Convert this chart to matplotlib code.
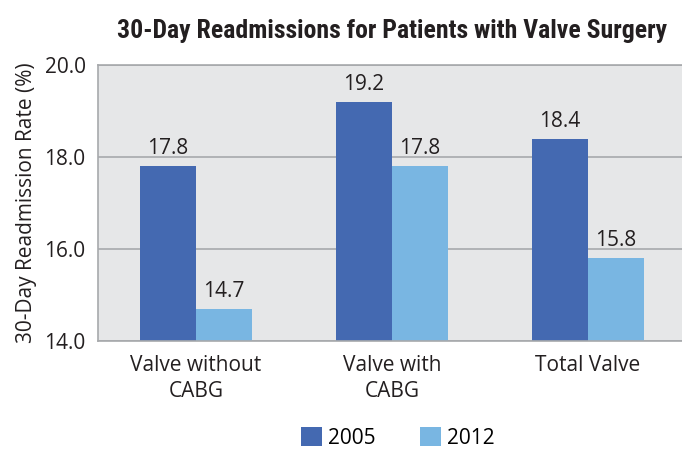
import matplotlib.pyplot as plt
import numpy as np

categories = ["Valve without\nCABG", "Valve with\nCABG", "Total Valve"]
years = ["2005", "2012"]
rate_2005 = [17.8, 19.2, 18.4]
rate_2012 = [14.7, 17.8, 15.8]

dark = "#4469b1"
light = "#79b6e2"
font = "Open Sans"
fs = 15

fig = plt.figure(figsize=(6.82, 4.51), dpi=100)
ax = fig.add_axes([98 / 682, 110 / 451, 588 / 682, 276 / 451])
ax.set_facecolor("#e6e7e8")

x = np.arange(len(categories))
w = 0.286
b1 = ax.bar(x - w / 2, np.array(rate_2005) - 14, w, bottom=14, color=dark, label=years[0])
b2 = ax.bar(x + w / 2, np.array(rate_2012) - 14, w, bottom=14, color=light, label=years[1])

for bars, vals in ((b1, rate_2005), (b2, rate_2012)):
    for r, v in zip(bars, vals):
        ax.annotate(f"{v:.1f}", (r.get_x() + r.get_width() / 2, v), xytext=(0, 5),
                    textcoords="offset points", ha="center", va="bottom",
                    fontsize=fs, family=font, color="#231f20")

ax.set_xlim(-0.5, 2.5)
ax.set_ylim(14, 20)
ax.set_yticks([14, 16, 18, 20])
ax.set_yticklabels([f"{t:.1f}" for t in [14, 16, 18, 20]], family=font, fontsize=fs)
ax.set_xticks(x)
ax.set_xticklabels(categories, family=font, fontsize=fs, linespacing=1.35)
ax.tick_params(length=0, pad=9, colors="#231f20")
ax.tick_params(axis="x", pad=10)
ax.yaxis.grid(True, color="#a7a9ac", linewidth=1.2)
ax.set_axisbelow(True)
for s in ax.spines.values():
    s.set_color("#a7a9ac")
    s.set_linewidth(1.2)

ax.set_ylabel("30-Day Readmission Rate (%)", family=font, fontsize=fs, color="#231f20", labelpad=5)

title = fig.text(392 / 682, 1 - 31 / 451, "30-Day Readmissions for Patients with Valve Surgery",
                 ha="center", va="center", fontsize=17, fontweight="bold",
                 family=["Roboto Condensed", "Roboto"], color="#231f20")
# squeeze the title to the width it has in the original (about 550 px)
r = fig.canvas.get_renderer()
tw = title.get_window_extent(r).width
title.set_fontsize(17 * 550 / tw)

fig.legend(handles=[b1, b2], loc="center", bbox_to_anchor=(398 / 682, 1 - 438 / 451),
           ncol=2, frameon=False, prop={"family": font, "size": fs},
           handlelength=1.0, handleheight=1.0, columnspacing=2.1, handletextpad=0.3)

fig.savefig("out.png", dpi=100)
